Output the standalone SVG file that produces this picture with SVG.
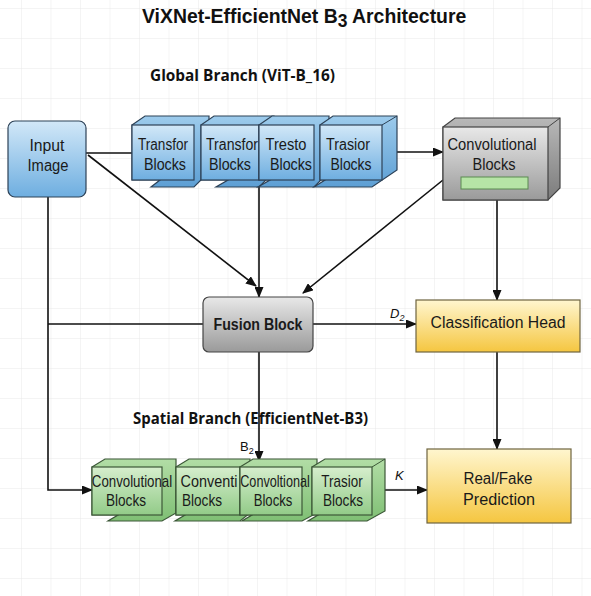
<svg xmlns="http://www.w3.org/2000/svg" width="591" height="596" viewBox="0 0 591 596">
<defs>
  <pattern id="grid" x="21" y="8" width="29.5" height="30" patternUnits="userSpaceOnUse">
    <path d="M0,0 V30 M0,0 H29.5" fill="none" stroke="#e9e9e9" stroke-width="1"/>
  </pattern>
  <linearGradient id="gBlue" x1="0" y1="0" x2="0" y2="1"><stop offset="0" stop-color="#d2e8f8"/><stop offset="1" stop-color="#6eaee0"/></linearGradient>
  <linearGradient id="gBlueBack" x1="0" y1="0" x2="0" y2="1"><stop offset="0" stop-color="#9dcbec"/><stop offset="1" stop-color="#5d9fd4"/></linearGradient>
  <linearGradient id="gGray" x1="0" y1="0" x2="0" y2="1"><stop offset="0" stop-color="#e8e8e8"/><stop offset="1" stop-color="#9a9a9a"/></linearGradient>
  <linearGradient id="gGrayBack" x1="0" y1="0" x2="0" y2="1"><stop offset="0" stop-color="#b8b8b8"/><stop offset="1" stop-color="#7c7c7c"/></linearGradient>
  <linearGradient id="gYellow" x1="0" y1="0" x2="0" y2="1"><stop offset="0" stop-color="#fff6cf"/><stop offset="1" stop-color="#f5c640"/></linearGradient>
  <linearGradient id="gGreen" x1="0" y1="0" x2="0" y2="1"><stop offset="0" stop-color="#d6eecd"/><stop offset="1" stop-color="#92cb88"/></linearGradient>
  <linearGradient id="gGreenBack" x1="0" y1="0" x2="0" y2="1"><stop offset="0" stop-color="#b2dda6"/><stop offset="1" stop-color="#7fbf74"/></linearGradient>
  <marker id="arr" markerWidth="11" markerHeight="9" refX="10" refY="4.5" orient="auto" markerUnits="userSpaceOnUse">
    <path d="M0,0 L11,4.5 L0,9 Z" fill="#111"/>
  </marker>
  <style>
    .title{font-family:"Liberation Sans",Arial,sans-serif;font-weight:bold;font-size:20px;fill:#111}
    .sec{font-family:"Open Sans","Liberation Sans",sans-serif;font-weight:bold;font-size:16px;fill:#111}
    .t{font-family:"Liberation Sans",Arial,sans-serif;font-size:16px;fill:#1a1a1a;text-anchor:middle}
    .tb{font-family:"Liberation Sans",Arial,sans-serif;font-weight:bold;font-size:16px;fill:#1a1a1a;text-anchor:middle}
    .lbl{font-family:"Liberation Sans",Arial,sans-serif;font-size:13px;fill:#111}
    .it{font-style:italic}
    .blueF{fill:url(#gBlue);stroke:#2d4257;stroke-width:1.2}
    .blueB{fill:url(#gBlueBack);stroke:#2d4257;stroke-width:1.2}
    .greenF{fill:url(#gGreen);stroke:#3c5838;stroke-width:1.2}
    .greenB{fill:url(#gGreenBack);stroke:#3c5838;stroke-width:1.2}
    .edge{fill:none;stroke:#111;stroke-width:1.6}
    .arrow{marker-end:url(#arr)}
  </style>
</defs>
<rect width="591" height="596" fill="#ffffff"/>
<rect width="591" height="596" fill="url(#grid)"/>

<text class="title" transform="translate(142,23) scale(0.97,1)">ViXNet-EfficientNet B<tspan dy="4" font-size="18">3</tspan><tspan dy="-4"> Architecture</tspan></text>
<text class="sec" x="150" y="81" textLength="185" lengthAdjust="spacingAndGlyphs">Global Branch (ViT-B_16)</text>
<text class="sec" x="133" y="424" textLength="235" lengthAdjust="spacingAndGlyphs">Spatial Branch (EfficientNet-B3)</text>

<g id="connectors">
  <path class="edge" d="M86,153 L132,153"/>
  <path class="edge arrow" d="M88,155 L256,286"/>
  <path class="edge arrow" d="M259,187 L259,297"/>
  <path class="edge arrow" d="M443,180 L303,293"/>
  <path class="edge arrow" d="M382,152 L443,152"/>
  <path class="edge arrow" d="M497,200 L497,300"/>
  <path class="edge arrow" d="M313,324 L416,324"/>
  <path class="edge arrow" d="M497,352 L497,449"/>
  <path class="edge arrow" d="M48,197 L48,490 L92,490"/>
  <path class="edge" d="M48,324 L203,324"/>
  <path class="edge arrow" d="M259,352 L259,461"/>
  <path class="edge arrow" d="M372,490 L427,490"/>
  <text class="lbl it" x="390" y="318">D<tspan font-size="9" dy="3">2</tspan></text>
  <text class="lbl" x="240" y="451">B<tspan font-size="9" dy="3">2</tspan></text>
  <text class="lbl it" x="395" y="480" font-size="14">K</text>
</g>

<g id="input-image">
  <rect x="8" y="121" width="78" height="76" rx="7" fill="url(#gBlue)" stroke="#2d4257" stroke-width="1.2"/>
  <text class="t" x="47" y="151" textLength="35" lengthAdjust="spacingAndGlyphs">Input</text>
  <text class="t" x="48" y="171" textLength="41" lengthAdjust="spacingAndGlyphs">Image</text>
</g>

<g id="transformer-blocks">
  <g id="tb1">
    <path class="blueB" d="M132,125 L145,116 L209,116 L209,172 L194,187 L151,187 L160,180 L132,180 Z"/>
    <rect class="blueF" x="132" y="125" width="62" height="55"/>
    <text class="t" x="163" y="150" textLength="50" lengthAdjust="spacingAndGlyphs">Transfor</text>
    <text class="t" x="165" y="170" textLength="42" lengthAdjust="spacingAndGlyphs">Blocks</text>
  </g>
  <g id="tb2">
    <path class="blueB" d="M201,125 L214,116 L274,116 L274,172 L259,187 L216,187 L228,180 L201,180 Z"/>
    <rect class="blueF" x="201" y="125" width="58" height="55"/>
    <text class="t" x="232" y="150" textLength="52" lengthAdjust="spacingAndGlyphs">Transfor</text>
    <text class="t" x="230" y="170" textLength="42" lengthAdjust="spacingAndGlyphs">Blocks</text>
  </g>
  <g id="tb3">
    <path class="blueB" d="M259,125 L272,116 L329,116 L329,172 L314,187 L258,187 L270,180 L259,180 Z"/>
    <rect class="blueF" x="259" y="125" width="55" height="55"/>
    <text class="t" x="286" y="150" textLength="41" lengthAdjust="spacingAndGlyphs">Tresto</text>
    <text class="t" x="291" y="170" textLength="42" lengthAdjust="spacingAndGlyphs">Blocks</text>
  </g>
  <g id="tb4">
    <path class="blueB" d="M320,125 L333,116 L397,116 L397,170 L372,187 L314,187 L325,180 L320,180 Z"/>
    <rect class="blueF" x="320" y="125" width="62" height="55"/>
    <path d="M382,125 L397,116" fill="none" stroke="#2d4257" stroke-width="1"/>
    <text class="t" x="348" y="150" textLength="44" lengthAdjust="spacingAndGlyphs">Trasior</text>
    <text class="t" x="351" y="170" textLength="41" lengthAdjust="spacingAndGlyphs">Blocks</text>
  </g>
</g>

<g id="conv-blocks-global">
  <path d="M443,127 L455,118 L560,118 L560,188 L548,200 L443,200 Z" fill="url(#gGrayBack)" stroke="#444" stroke-width="1.2"/>
  <rect x="443" y="127" width="105" height="73" fill="url(#gGray)" stroke="#444" stroke-width="1.2"/>
  <path d="M548,127 L560,118" fill="none" stroke="#444" stroke-width="1"/>
  <rect x="461" y="177" width="67" height="12" fill="#b6e4a6" stroke="#5a8a50" stroke-width="1"/>
  <text class="t" x="492" y="150" textLength="89" lengthAdjust="spacingAndGlyphs">Convolutional</text>
  <text class="t" x="494" y="170" textLength="43" lengthAdjust="spacingAndGlyphs">Blocks</text>
</g>

<g id="fusion-block">
  <rect x="203" y="297" width="110" height="55" rx="6" fill="url(#gGray)" stroke="#444" stroke-width="1.2"/>
  <text class="tb" x="258" y="330" textLength="89" lengthAdjust="spacingAndGlyphs">Fusion Block</text>
</g>

<g id="classification-head">
  <rect x="416" y="300" width="164" height="52" fill="url(#gYellow)" stroke="#6e6440" stroke-width="1.2"/>
  <text class="t" x="498" y="328" textLength="135" lengthAdjust="spacingAndGlyphs">Classification Head</text>
</g>

<g id="prediction">
  <rect x="427" y="449" width="144" height="74" fill="url(#gYellow)" stroke="#6e6440" stroke-width="1.2"/>
  <text class="t" x="498" y="484" textLength="69" lengthAdjust="spacingAndGlyphs">Real/Fake</text>
  <text class="t" x="499" y="505" textLength="72" lengthAdjust="spacingAndGlyphs">Prediction</text>
</g>

<g id="spatial-blocks">
  <g id="sb1">
    <path class="greenB" d="M92,467 L105,459 L176,459 L176,513 L162,521 L108,521 L118,515 L92,515 Z"/>
    <rect class="greenF" x="92" y="467" width="70" height="48"/>
    <text class="t" transform="translate(132,487) scale(0.83,1)">Convolutional</text>
    <text class="t" transform="translate(126,506) scale(0.85,1)">Blocks</text>
  </g>
  <g id="sb2">
    <path class="greenB" d="M176,467 L189,459 L250,459 L250,513 L240,521 L175,521 L185,515 L176,515 Z"/>
    <rect class="greenF" x="176" y="467" width="64" height="48"/>
    <text class="t" transform="translate(209,487) scale(0.9,1)">Conventi</text>
    <text class="t" transform="translate(202,506) scale(0.85,1)">Blocks</text>
  </g>
  <g id="sb3">
    <path class="greenB" d="M240,467 L253,459 L317,459 L317,513 L302,521 L242,521 L252,515 L240,515 Z"/>
    <rect class="greenF" x="240" y="467" width="62" height="48"/>
    <text class="t" transform="translate(275,487) scale(0.79,1)">Convoltional</text>
    <text class="t" transform="translate(273,506) scale(0.82,1)">Blocks</text>
  </g>
  <g id="sb4">
    <path class="greenB" d="M312,467 L325,459 L385,459 L385,511 L367,521 L308,521 L318,515 L312,515 Z"/>
    <rect class="greenF" x="312" y="467" width="60" height="48"/>
    <path d="M372,467 L385,459" fill="none" stroke="#3c5838" stroke-width="1"/>
    <text class="t" transform="translate(342,487) scale(0.84,1)">Trasior</text>
    <text class="t" transform="translate(343,506) scale(0.85,1)">Blocks</text>
  </g>
</g>
</svg>
